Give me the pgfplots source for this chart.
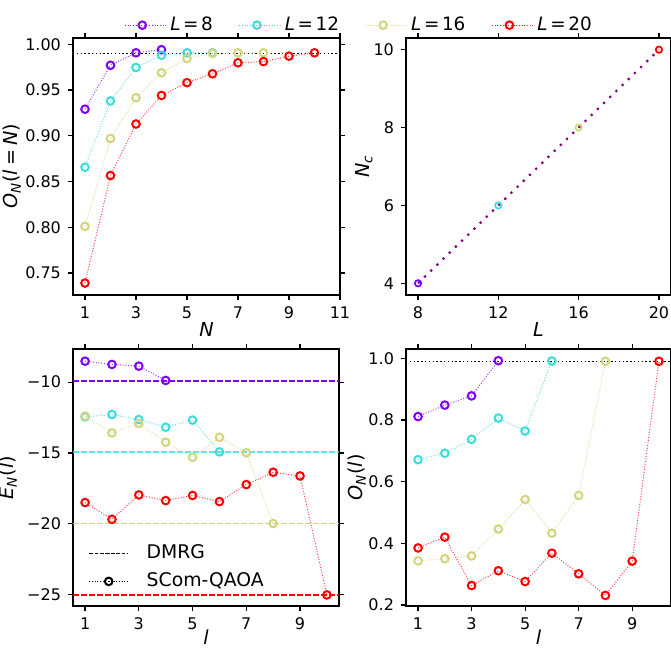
\documentclass[border=0pt]{standalone}
\usepackage{pgfplots}
\pgfplotsset{compat=1.18}
\usepackage{fontspec}
\setmainfont{DejaVu Sans}
\definecolor{cA}{HTML}{8000FF}
\definecolor{cB}{HTML}{3CDCDC}
\definecolor{cC}{HTML}{D2D47E}
\definecolor{cD}{HTML}{FF0000}
\definecolor{fitc}{HTML}{800080}
\pgfplotsset{
  panel/.style={
    scale only axis, height=128.5pt, anchor=south west,
    tick pos=both, tick align=outside, major tick length=2.5pt,
    axis line style={line width=0.6pt},
    every tick/.style={black, line width=0.6pt},
    tick label style={font=\fontsize{8}{9}\selectfont},
    label style={font=\fontsize{9.6}{11}\selectfont},
    /pgf/number format/assume math mode=true,
  },
  ser/.style={#1, line width=0.5pt, dash pattern=on 0.5pt off 0.85pt, draw opacity=0.75,
    mark=o, mark size=1.9pt, mark options={solid, draw opacity=1, line width=1pt}},
  refl/.style={black, line width=0.75pt, dash pattern=on 0.75pt off 1.15pt},
}
\newcommand{\eq}{\kern2pt=\kern2pt}
\begin{document}
\begin{tikzpicture}
\useasboundingbox (0,0) rectangle (335.5pt,324pt);
% top left
\begin{axis}[panel, at={(36.5pt,176.5pt)}, width=133.5pt,
  xmin=0.53, xmax=11, ymin=0.726, ymax=1.0068,
  xtick={1,3,5,7,9,11}, ytick={0.75,0.8,0.85,0.9,0.95,1.0},
  yticklabels={0.75,0.80,0.85,0.90,0.95,1.00},
  xlabel={\textit{N}}, ylabel={\textit{O}\textsubscript{\textit{N}}(\textit{l}\eq\textit{N})},
  xlabel style={at={([yshift=-17.5pt]axis description cs:0.5,0)}, anchor=center},
  ylabel style={at={([xshift=-30.5pt]axis description cs:0,0.5)}, anchor=center},
  legend columns=4,
  legend image code/.code={\draw[mark repeat=2,mark phase=2,#1] plot coordinates {(0pt,0pt) (8.75pt,0pt) (17.5pt,0pt)}; \path (0pt,0pt) -- (20.5pt,0pt);},
  legend style={draw=none, fill=none, font=\fontsize{9.2}{11}\selectfont,
    at={(1.075,1.05)}, anchor=center,
    /tikz/every even column/.append style={column sep=11pt}},
]
\addplot[refl, forget plot] coordinates {(0.53,0.99) (11,0.99)};
\addplot[ser=cA] coordinates {(1,0.929) (2,0.977) (3,0.9906) (4,0.994)};
\addlegendentry{\textit{L}\kern1.3pt=\kern1.3pt8}
\addplot[ser=cB] coordinates {(1,0.8656) (2,0.938) (3,0.9746) (4,0.988) (5,0.9906) (6,0.9906)};
\addlegendentry{\textit{L}\kern1.3pt=\kern1.3pt12}
\addplot[ser=cC] coordinates {(1,0.801) (2,0.897) (3,0.9415) (4,0.9688) (5,0.9844) (6,0.990) (7,0.9906) (8,0.9906)};
\addlegendentry{\textit{L}\kern1.3pt=\kern1.3pt16}
\addplot[ser=cD] coordinates {(1,0.739) (2,0.8565) (3,0.9128) (4,0.944) (5,0.958) (6,0.9677) (7,0.9797) (8,0.981) (9,0.987) (10,0.9906)};
\addlegendentry{\textit{L}\kern1.3pt=\kern1.3pt20}
\end{axis}
% top right
\begin{axis}[panel, at={(203pt,176.5pt)}, width=132.5pt,
  xmin=7.4, xmax=20.6, ymin=3.7, ymax=10.3,
  xtick={8,12,16,20}, ytick={4,6,8,10},
  xlabel={\textit{L}}, ylabel={\textit{N}\textsubscript{\textit{c}}},
  xlabel style={at={([yshift=-17.5pt]axis description cs:0.5,0)}, anchor=center},
  ylabel style={at={([xshift=-21pt]axis description cs:0,0.5)}, anchor=center},
]
\addplot[fitc, line width=1.1pt, dash pattern=on 1.1pt off 3.2pt] coordinates {(8,4) (12,6) (16,8) (20,10)};
\addplot[cA, only marks, mark=o, mark size=1.6pt, mark options={line width=0.85pt}] coordinates {(8,4)};
\addplot[cB, only marks, mark=o, mark size=1.6pt, mark options={line width=0.85pt}] coordinates {(12,6)};
\addplot[cC, only marks, mark=o, mark size=1.6pt, mark options={line width=0.85pt}] coordinates {(16,8)};
\addplot[cD, only marks, mark=o, mark size=1.6pt, mark options={line width=0.85pt}] coordinates {(20,10)};
\end{axis}
% bottom left
\begin{axis}[panel, at={(36.5pt,21pt)}, width=133pt,
  xmin=0.55, xmax=10.45, ymin=-25.8, ymax=-7.66,
  xtick={1,3,5,7,9}, ytick={-25,-20,-15,-10},
  yticklabels={−25,−20,−15,−10},
  xlabel={\textit{l}}, ylabel={\textit{E}\textsubscript{\textit{N}}(\textit{l})},
  xlabel style={at={([yshift=-15.5pt]axis description cs:0.5,0)}, anchor=center},
  ylabel style={at={([xshift=-32.5pt]axis description cs:0,0.5)}, anchor=center},
  legend cell align=left,
  legend image code/.code={\draw[mark repeat=2,mark phase=2,#1] plot coordinates {(0pt,0pt) (9.75pt,0pt) (19.5pt,0pt)};},
  legend style={draw=none, fill=none, font=\fontsize{9.4}{11}\selectfont,
    at={(0.035,0.03)}, anchor=south west, row sep=1.5pt},
]
\addlegendimage{black, line width=0.5pt, dash pattern=on 1.9pt off 0.8pt}
\addlegendentry{\hspace{7pt}DMRG}
\addlegendimage{black, line width=0.5pt, dash pattern=on 0.5pt off 0.85pt, mark=o, mark size=1.9pt, mark options={solid, line width=1pt}}
\addlegendentry{\hspace{7pt}SCom-QAOA}
\addplot[cA, forget plot, line width=0.75pt, dash pattern=on 2.8pt off 1.2pt] coordinates {(0.55,-9.92) (10.45,-9.92)};
\addplot[cB, forget plot, draw opacity=0.8, line width=0.75pt, dash pattern=on 2.8pt off 1.2pt] coordinates {(0.55,-14.94) (10.45,-14.94)};
\addplot[cC, forget plot, line width=0.75pt, dash pattern=on 2.8pt off 1.2pt] coordinates {(0.55,-19.98) (10.45,-19.98)};
\addplot[cD, forget plot, line width=0.75pt, dash pattern=on 2.8pt off 1.2pt] coordinates {(0.55,-25.02) (10.45,-25.02)};
\addplot[ser=cA, forget plot] coordinates {(1,-8.52) (2,-8.75) (3,-8.87) (4,-9.88)};
\addplot[ser=cB, forget plot] coordinates {(1,-12.45) (2,-12.28) (3,-12.64) (4,-13.18) (5,-12.68) (6,-14.92)};
\addplot[ser=cC, forget plot] coordinates {(1,-12.40) (2,-13.58) (3,-12.92) (4,-14.24) (5,-15.30) (6,-13.89) (7,-14.99) (8,-19.98)};
\addplot[ser=cD, forget plot] coordinates {(1,-18.50) (2,-19.68) (3,-17.96) (4,-18.36) (5,-18.0) (6,-18.43) (7,-17.23) (8,-16.36) (9,-16.62) (10,-25.02)};
\end{axis}
% bottom right
\begin{axis}[panel, at={(203pt,21pt)}, width=132.5pt,
  xmin=0.55, xmax=10.45, ymin=0.1967, ymax=1.030,
  xtick={1,3,5,7,9}, ytick={0.2,0.4,0.6,0.8,1.0},
  yticklabels={0.2,0.4,0.6,0.8,1.0},
  xlabel={\textit{l}}, ylabel={\textit{O}\textsubscript{\textit{N}}(\textit{l})},
  xlabel style={at={([yshift=-15.5pt]axis description cs:0.5,0)}, anchor=center},
  ylabel style={at={([xshift=-24.5pt]axis description cs:0,0.5)}, anchor=center},
]
\addplot[refl] coordinates {(0.55,0.99) (10.45,0.99)};
\addplot[ser=cA] coordinates {(1,0.811) (2,0.848) (3,0.878) (4,0.992)};
\addplot[ser=cB] coordinates {(1,0.671) (2,0.692) (3,0.737) (4,0.806) (5,0.764) (6,0.991)};
\addplot[ser=cC] coordinates {(1,0.343) (2,0.350) (3,0.359) (4,0.446) (5,0.542) (6,0.433) (7,0.555) (8,0.990)};
\addplot[ser=cD] coordinates {(1,0.385) (2,0.420) (3,0.263) (4,0.311) (5,0.276) (6,0.368) (7,0.301) (8,0.231) (9,0.342) (10,0.990)};
\end{axis}
\end{tikzpicture}
\end{document}
